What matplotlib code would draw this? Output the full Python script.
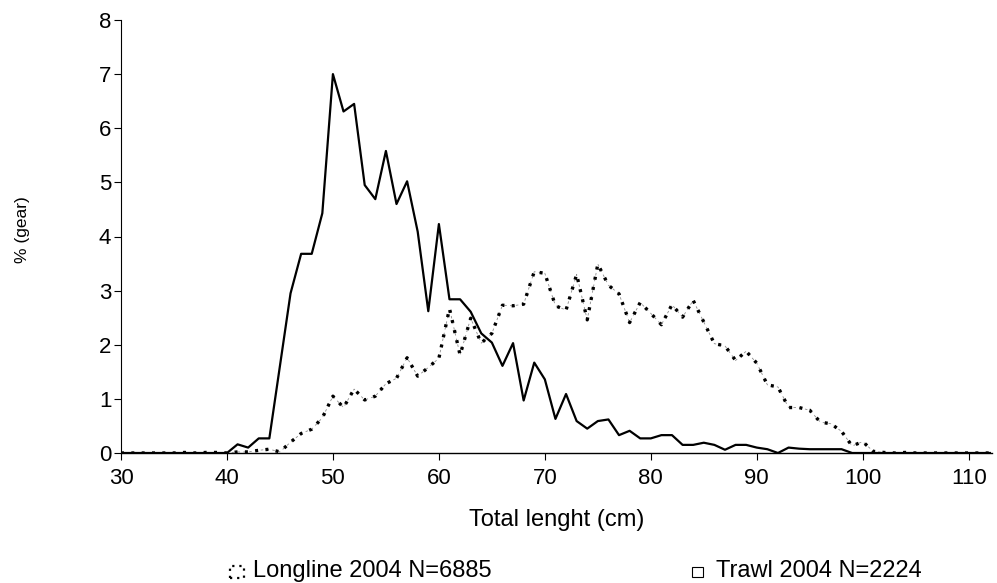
import matplotlib.pyplot as plt
import numpy as np
from matplotlib.patches import Rectangle

# length classes (cm), 1 cm steps
lengths = np.arange(30, 113)

# % of catch per gear
longline_2004 = [
    0, 0, 0, 0, 0, 0, 0.01, 0, 0.01, 0.01,                    # 30-39
    0, 0.02, 0.02, 0.05, 0.07, 0.02, 0.20, 0.36, 0.44, 0.65,  # 40-49
    1.05, 0.84, 1.18, 0.98, 1.05, 1.28, 1.38, 1.76, 1.42, 1.58,  # 50-59
    1.75, 2.67, 1.81, 2.49, 2.03, 2.21, 2.73, 2.72, 2.75, 3.35,  # 60-69
    3.32, 2.72, 2.64, 3.30, 2.46, 3.49, 3.10, 2.94, 2.41, 2.78,  # 70-79
    2.58, 2.37, 2.74, 2.51, 2.82, 2.42, 2.02, 1.98, 1.71, 1.88,  # 80-89
    1.66, 1.26, 1.22, 0.84, 0.84, 0.79, 0.57, 0.54, 0.40, 0.13,  # 90-99
    0.21, 0.03, 0.01, 0, 0.01, 0, 0, 0, 0, 0,                 # 100-109
    0, 0, 0,                                                  # 110-112
]
trawl_2004 = [
    0, 0, 0, 0, 0, 0, 0, 0, 0, 0,                             # 30-39
    0, 0.16, 0.10, 0.27, 0.27, 1.61, 2.95, 3.68, 3.68, 4.43,  # 40-49
    7.00, 6.31, 6.45, 4.95, 4.69, 5.58, 4.60, 5.02, 4.09, 2.62,  # 50-59
    4.23, 2.84, 2.84, 2.61, 2.21, 2.04, 1.61, 2.03, 0.97, 1.67,  # 60-69
    1.36, 0.63, 1.09, 0.59, 0.45, 0.59, 0.62, 0.33, 0.41, 0.27,  # 70-79
    0.27, 0.33, 0.33, 0.15, 0.15, 0.19, 0.15, 0.06, 0.15, 0.15,  # 80-89
    0.10, 0.07, 0.0, 0.10, 0.08, 0.07, 0.07, 0.07, 0.07, 0,   # 90-99
    0, 0, 0, 0, 0, 0, 0, 0, 0, 0,                             # 100-109
    0, 0, 0,                                                  # 110-112
]
longline_label = 'Longline 2004 N=6885'
trawl_label = 'Trawl 2004 N=2224'

plt.rcParams['font.family'] = ['Liberation Sans', 'DejaVu Sans']

W, H = 997, 583
fig = plt.figure(figsize=(W / 100, H / 100), dpi=100)
ax = fig.add_axes([121 / W, 1 - 453 / H, 871 / W, 433 / H])

# longline: thin grey dashes with heavy black dots over them
ax.plot(lengths, longline_2004, color='0.55', lw=0.6, ls=(0, (3, 4)))
ax.plot(lengths, longline_2004, color='black', lw=2.4,
        ls=(0, (0.9, 2.2)), dash_capstyle='butt')
ax.plot(lengths, trawl_2004, color='black', lw=1.6)

ax.set_xlim(30, 112.2)
ax.set_ylim(0, 8)
ax.set_xticks(np.arange(30, 111, 10))
ax.set_yticks(np.arange(0, 9, 1))
for side in ('top', 'right'):
    ax.spines[side].set_visible(False)
ax.spines['left'].set_linewidth(0.8)
ax.spines['bottom'].set_linewidth(1.0)
ax.tick_params(direction='out', length=5, width=0.8, labelsize=16)
ax.tick_params(axis='x', pad=6)
ax.tick_params(axis='y', pad=2)

fig.text(557 / W, 1 - 526 / H, 'Total lenght (cm)', fontsize=17,
         ha='center', va='baseline')
fig.text(22 / W, 1 - 230 / H, '% (gear)', fontsize=12.5, rotation=90,
         ha='center', va='center')

# legend row under the axis
leg_y = 1 - 577 / H
fig.add_artist(Rectangle((230 / W, 1 - 578 / H), 14 / W, 12 / H,
                         transform=fig.transFigure, facecolor='white',
                         edgecolor='black', lw=1.6, ls=(0, (1, 2.2))))
fig.text(253 / W, leg_y, longline_label, fontsize=17, ha='left',
         va='baseline')
fig.add_artist(Rectangle((692 / W, 1 - 577 / H), 11 / W, 10 / H,
                         transform=fig.transFigure, facecolor='white',
                         edgecolor='black', lw=0.8))
fig.text(716 / W, leg_y, trawl_label, fontsize=17, ha='left', va='baseline')

fig.savefig('out.png', dpi=100)
